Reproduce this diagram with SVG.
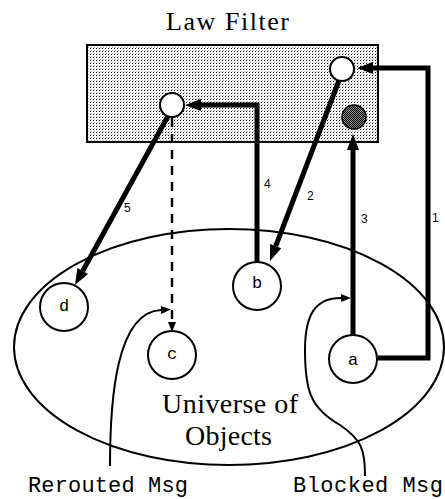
<svg xmlns="http://www.w3.org/2000/svg" width="445" height="499" viewBox="0 0 445 499">
<style>
.node{fill:#fff;stroke:#000;stroke-width:2}
.lbl{font-family:"Liberation Mono","Courier New",monospace;font-size:17px;text-anchor:middle;fill:#000}
.num{font-family:"Liberation Sans",Arial,sans-serif;font-size:12px;fill:#000}
.serif{font-family:"Liberation Serif","Times New Roman",serif;fill:#000}
.mono{font-family:"Liberation Mono","Courier New",monospace;font-size:22px;fill:#000}
.thick{fill:none;stroke:#000;stroke-width:5}
.thin{fill:none;stroke:#000;stroke-width:2}
</style>
<defs>
<pattern id="stip" width="3" height="3" patternUnits="userSpaceOnUse">
<rect width="3" height="3" fill="#fff"/>
<rect x="0" y="0" width="1" height="1" fill="#000"/>
<rect x="1" y="2" width="1" height="1" fill="#aaa"/>
</pattern>
<pattern id="dark" width="2" height="2" patternUnits="userSpaceOnUse">
<rect width="2" height="2" fill="#888"/>
<rect x="0" y="0" width="1" height="1" fill="#000"/>
<rect x="1" y="1" width="1" height="1" fill="#000"/>
</pattern>
<marker id="big" markerUnits="userSpaceOnUse" markerWidth="16" markerHeight="12" refX="0" refY="6" orient="auto" overflow="visible">
<path d="M0,0 L16,6 L0,12 z" fill="#000"/>
</marker>
<marker id="small" markerUnits="userSpaceOnUse" markerWidth="10" markerHeight="8" refX="0" refY="4" orient="auto" overflow="visible">
<path d="M0,0 L10,4 L0,8 z" fill="#000"/>
</marker>
</defs>

<g id="title"><text class="serif" x="166" y="30" font-size="26" textLength="123" lengthAdjust="spacing">Law Filter</text></g>

<g id="law-filter">
<rect x="87" y="45" width="291" height="97" fill="url(#stip)" stroke="#000" stroke-width="2"/>
</g>

<g id="universe">
<ellipse cx="229" cy="347" rx="215" ry="118" fill="none" stroke="#000" stroke-width="2"/>
<text class="serif" x="162" y="413" font-size="28" textLength="136" lengthAdjust="spacing">Universe of</text>
<text class="serif" x="185" y="445" font-size="28" textLength="87" lengthAdjust="spacing">Objects</text>
</g>

<g id="connectors">
<path class="thick" d="M378,358 H428 V68 H373" marker-end="url(#big)"/>
<path class="thick" d="M343,70 L275.7,246.1" marker-end="url(#big)"/>
<path class="thick" d="M353,335 V150" marker-end="url(#big)"/>
<path class="thick" d="M257,262 V105 H201" marker-end="url(#big)"/>
<path class="thick" d="M173,107 L82.7,271" marker-end="url(#big)"/>
<path d="M172,118 V322" fill="none" stroke="#000" stroke-width="2.5" stroke-dasharray="9,7" marker-end="url(#small)"/>
<path class="thin" d="M110,466 C110,400 116,312 161,310" marker-end="url(#small)"/>
<path class="thin" d="M365,476 C365,450 362,440 340,425 C310,408 305,390 305,350 C305,315 315,298 341,298" marker-end="url(#small)"/>
<text class="num" x="432" y="222">1</text>
<text class="num" x="307" y="200">2</text>
<text class="num" x="361" y="223">3</text>
<text class="num" x="264" y="188">4</text>
<text class="num" x="124" y="212">5</text>
</g>

<g id="filter-b"><circle class="node" cx="172" cy="105" r="12"/></g>
<g id="filter-a"><circle class="node" cx="342" cy="69" r="12"/></g>
<g id="blocked"><circle cx="354" cy="117" r="12" fill="url(#dark)" stroke="#000" stroke-width="1.5"/></g>

<g id="node-a"><circle class="node" cx="353" cy="359" r="24"/><text class="lbl" x="353" y="365">a</text></g>
<g id="node-b"><circle class="node" cx="257" cy="286" r="24"/><text class="lbl" x="257" y="288">b</text></g>
<g id="node-c"><circle class="node" cx="172" cy="355" r="24"/><text class="lbl" x="172" y="359">c</text></g>
<g id="node-d"><circle class="node" cx="64" cy="307" r="24"/><text class="lbl" x="64" y="311">d</text></g>

<g id="captions">
<text class="mono" x="28" y="492" textLength="160" lengthAdjust="spacing">Rerouted Msg</text>
<text class="mono" x="293" y="492" textLength="150" lengthAdjust="spacing">Blocked Msg</text>
</g>
</svg>
